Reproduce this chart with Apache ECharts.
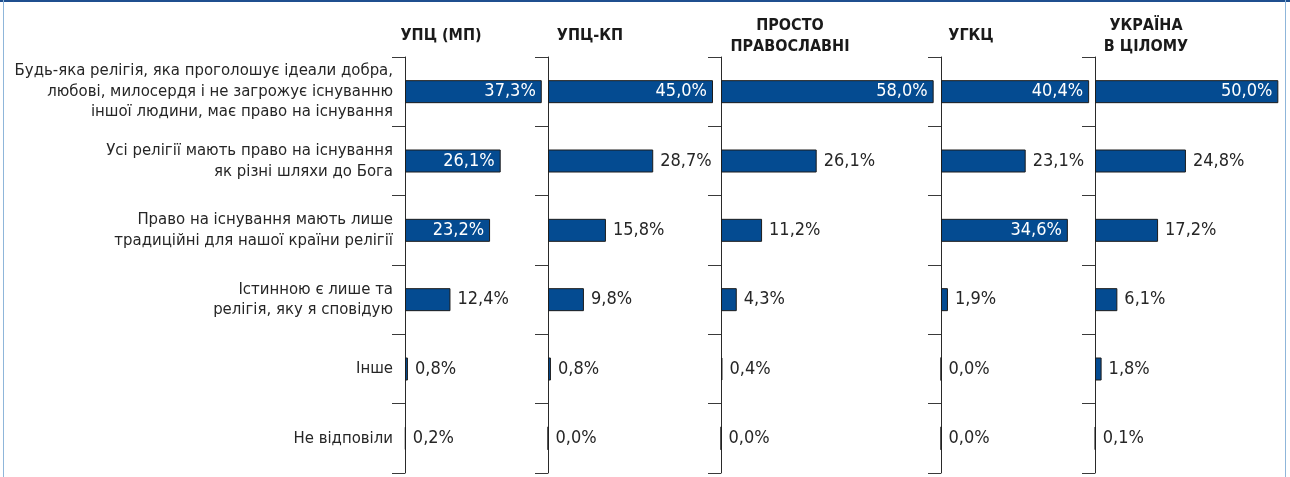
<!DOCTYPE html>
<html>
<head>
    <meta charset="utf-8">
    <script src="https://cdn.jsdelivr.net/npm/echarts@6/dist/echarts.min.js"></script>
    <style>
        html, body { width: 100%; height: 100%; margin: 0; background: #fff; }
        #main { width: 1290px; height: 477px; }
    </style>
</head>
<body>
    <div id="main"></div>
    <script>
        var categories = [
            'Будь-яка релігія, яка проголошує ідеали добра,\nлюбові, милосердя і не загрожує існуванню\nіншої людини, має право на існування',
            'Усі релігії мають право на існування\nяк різні шляхи до Бога',
            'Право на існування мають лише\nтрадиційні для нашої країни релігії',
            'Істинною є лише та\nрелігія, яку я сповідую',
            'Інше',
            'Не відповіли'
        ];
        var groups = ['УПЦ (МП)', 'УПЦ-КП', 'ПРОСТО\nПРАВОСЛАВНІ', 'УГКЦ', 'УКРАЇНА\nВ ЦІЛОМУ'];
        var upcMp = [37.3, 26.1, 23.2, 12.4, 0.8, 0.2];
        var upcKp = [45.0, 28.7, 15.8, 9.8, 0.8, 0.0];
        var orthodox = [58.0, 26.1, 11.2, 4.3, 0.4, 0.0];
        var ugcc = [40.4, 23.1, 34.6, 1.9, 0.0, 0.0];
        var ukraine = [50.0, 24.8, 17.2, 6.1, 1.8, 0.1];
        var seriesData = [upcMp, upcKp, orthodox, ugcc, ukraine];

        // rows whose value label sits inside the bar
        var insideRows = [[0, 1, 2], [0], [0], [0, 2], [0]];

        var FONT = '"Liberation Sans Narrow", "DejaVu Sans Condensed", "Roboto", sans-serif';
        var axisX = [405, 548, 721, 941, 1095];
        var headerX = [441, 590, 790, 971, 1146];

        function fmt(v) {
            return v.toFixed(1).replace('.', ',') + '%';
        }

        var grids = [], xAxes = [], yAxes = [], series = [], graphics = [];

        axisX.forEach(function (x, i) {
            grids.push({ left: x, width: 220, top: 57, bottom: 4, outerBoundsMode: 'none', containLabel: false });
            xAxes.push({
                gridIndex: i, type: 'value', min: 0, max: 60, show: false
            });
            yAxes.push({
                gridIndex: i,
                type: 'category',
                data: categories,
                inverse: true,
                axisLine: { show: true, lineStyle: { color: '#2a2a2a', width: 1 } },
                axisTick: { show: true, length: 13, lineStyle: { color: '#3a3a3a' } },
                axisLabel: i === 0 ? {
                    show: true,
                    margin: 12,
                    fontFamily: FONT,
                    fontSize: 16.6,
                    lineHeight: 20.5,
                    color: '#262626'
                } : { show: false },
                splitLine: { show: false }
            });
            series.push({
                type: 'bar',
                xAxisIndex: i,
                yAxisIndex: i,
                barWidth: 23,
                itemStyle: { color: '#044b91', borderColor: '#1c1c1c', borderWidth: 1 },
                data: seriesData[i].map(function (v, r) {
                    var inside = insideRows[i].indexOf(r) >= 0;
                    return {
                        value: v,
                        label: {
                            show: true,
                            position: inside ? 'insideRight' : 'right',
                            distance: inside ? 6 : 7,
                            color: inside ? '#fff' : '#262626',
                            fontFamily: FONT,
                            fontSize: 18,
                            formatter: function (p) { return fmt(p.value); }
                        }
                    };
                })
            });
            graphics.push({
                type: 'text',
                x: headerX[i],
                y: 36,
                style: {
                    text: groups[i],
                    font: 'bold 16px ' + FONT,
                    fill: '#1a1a1a',
                    align: 'center',
                    verticalAlign: 'middle',
                    lineHeight: 21
                }
            });
        });

        // frame
        graphics.push({ type: 'line', shape: { x1: 0, y1: 1, x2: 1290, y2: 1 }, style: { stroke: '#1f4f8f', lineWidth: 2 } });
        graphics.push({ type: 'line', shape: { x1: 3.5, y1: 0, x2: 3.5, y2: 477 }, style: { stroke: '#8fb6da', lineWidth: 1 } });
        graphics.push({ type: 'line', shape: { x1: 1285.5, y1: 0, x2: 1285.5, y2: 477 }, style: { stroke: '#8fb6da', lineWidth: 1 } });

        var chart = echarts.init(document.getElementById('main'));
        chart.setOption({
            animation: false,
            grid: grids,
            xAxis: xAxes,
            yAxis: yAxes,
            series: series,
            graphic: graphics
        });
    </script>
</body>
</html>
